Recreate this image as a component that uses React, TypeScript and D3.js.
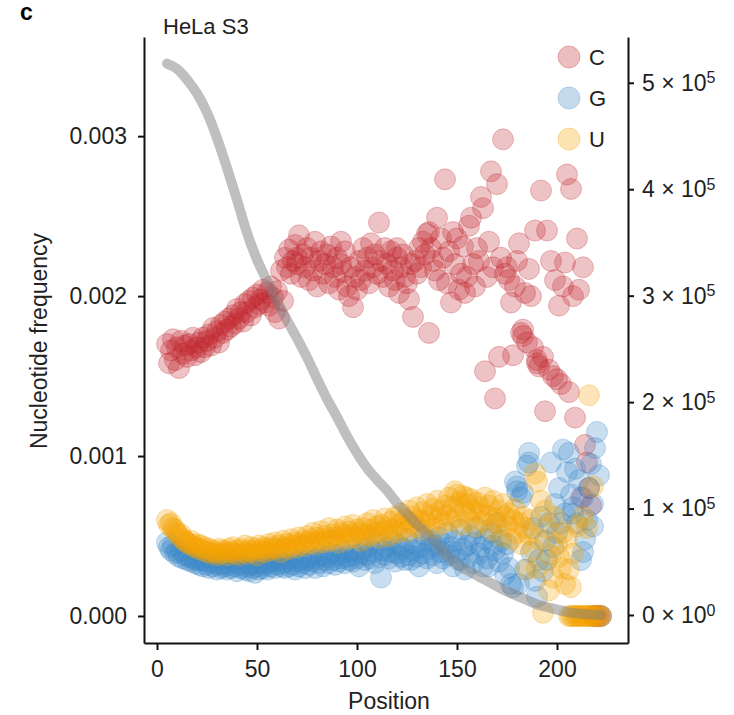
import React, { useEffect, useRef } from "react";
import * as d3 from "d3";

// nucleotide frequency per position, starting at position 5 (values ×10^-3)
const START = 5;
const cFreq = [
  1.70, 1.58, 1.66, 1.73, 1.60, 1.68, 1.55, 1.72, 1.64, 1.69,
  1.62, 1.70, 1.66, 1.74, 1.63, 1.68, 1.71, 1.65, 1.74, 1.68,
  1.72, 1.76, 1.69, 1.80, 1.74, 1.78, 1.71, 1.82, 1.77, 1.84,
  1.79, 1.86, 1.81, 1.88, 1.83, 1.92, 1.86, 1.90, 1.84, 1.95,
  1.90, 1.97, 1.88, 1.99, 1.93, 2.01, 1.95, 1.98, 2.04, 1.96,
  2.02, 1.94, 2.06, 1.99, 1.90, 2.03, 1.86, 2.16, 1.97, 2.24,
  2.18, 2.29, 2.14, 2.22, 2.32, 2.20, 2.38, 2.12, 2.26, 2.18,
  2.30, 2.10, 2.24, 2.16, 2.34, 2.06, 2.22, 2.28, 2.14, 2.20,
  2.26, 2.08, 2.31, 2.18, 2.12, 2.24, 2.04, 2.20, 2.15, 2.28,
  2.06, 2.00, 2.18, 1.93, 2.12, 2.04, 2.22, 2.10, 2.30, 2.16,
  2.24, 2.08, 2.33, 2.18, 2.26, 2.14, 2.46, 2.22, 2.12, 2.30,
  2.20, 2.06, 2.28, 2.16, 2.10, 2.24, 2.02, 2.18, 2.26, 2.12,
  2.08, 1.98, 2.20, 1.87, 2.22, 2.14, 2.30, 2.18, 2.34, 2.26,
  2.39, 1.77, 2.30, 2.22, 2.16, 2.49, 2.10, 2.36, 2.24, 2.73,
  2.08, 2.28, 1.96, 2.40, 2.20, 2.36, 2.04, 2.14, 2.31, 2.02,
  2.12, 2.44, 2.49, 2.20, 2.06, 2.30, 2.22, 2.62, 2.55, 1.53,
  2.12, 2.34, 2.78, 2.18, 1.36, 2.70, 1.62, 2.24, 2.98, 2.14,
  2.18, 2.10, 1.96, 1.63, 2.06, 2.22, 2.33, 1.77, 1.75, 2.02,
  1.71, 2.17, 2.00, 1.68, 2.41, 1.60, 1.56, 2.66, 1.62, 1.28,
  2.41, 1.54, 2.22, 1.50, 2.10, 1.48, 1.94, 1.45, 2.06, 2.21,
  2.76, 1.40, 2.67, 2.00, 1.24, 2.36, 2.04, 0.74, 2.18, 1.07,
  0.96, 0.80, 0.69, 0, 0, 0, 0, 0,
];
const gFreq = [
  0.46, 0.43, 0.41, 0.44, 0.39, 0.40, 0.37, 0.41, 0.36, 0.38,
  0.35, 0.37, 0.34, 0.36, 0.33, 0.35, 0.32, 0.35, 0.31, 0.34,
  0.32, 0.30, 0.34, 0.31, 0.33, 0.29, 0.32, 0.30, 0.33, 0.31,
  0.29, 0.32, 0.30, 0.34, 0.31, 0.28, 0.32, 0.30, 0.33, 0.29,
  0.31, 0.28, 0.32, 0.30, 0.27, 0.31, 0.29, 0.33, 0.30, 0.32,
  0.29, 0.33, 0.31, 0.34, 0.30, 0.32, 0.35, 0.31, 0.33, 0.30,
  0.34, 0.31, 0.36, 0.32, 0.29, 0.34, 0.31, 0.35, 0.33, 0.30,
  0.35, 0.32, 0.37, 0.34, 0.30, 0.36, 0.33, 0.38, 0.31, 0.35,
  0.37, 0.33, 0.39, 0.35, 0.32, 0.38, 0.34, 0.36, 0.40, 0.33,
  0.37, 0.35, 0.41, 0.34, 0.38, 0.36, 0.31, 0.39, 0.42, 0.35,
  0.38, 0.44, 0.36, 0.40, 0.33, 0.46, 0.37, 0.24, 0.41, 0.38,
  0.43, 0.36, 0.40, 0.47, 0.34, 0.39, 0.44, 0.37, 0.42, 0.35,
  0.48, 0.38, 0.35, 0.41, 0.45, 0.37, 0.31, 0.43, 0.39, 0.50,
  0.36, 0.42, 0.47, 0.38, 0.44, 0.33, 0.49, 0.40, 0.36, 0.45,
  0.52, 0.38, 0.43, 0.31, 0.47, 0.40, 0.35, 0.54, 0.42, 0.29,
  0.44, 0.37, 0.50, 0.33, 0.46, 0.55, 0.39, 0.43, 0.31, 0.48,
  0.36, 0.31, 0.52, 0.44, 0.41, 0.58, 0.34, 0.47, 0.39, 0.26,
  0.45, 0.30, 0.20, 0.18, 0.84, 0.81, 0.20, 0.74, 0.77, 0.29,
  0.94, 1.02, 0.40, 0.55, 0.22, 0.12, 0.35, 0.62, 0.28, 0.47,
  0.35, 0.58, 0.96, 0.43, 0.70, 0.52, 0.80, 0.58, 1.04, 0.64,
  0.90, 1.02, 0.76, 0.68, 0.92, 0.58, 0.85, 0.35, 0.74, 0.48,
  0.60, 0.80, 0.95, 0.70, 1.05, 1.15, 0.88, 0,
];
const uFreq = [
  0.60, 0.57, 0.58, 0.55, 0.54, 0.52, 0.50, 0.51, 0.48, 0.47,
  0.46, 0.45, 0.47, 0.44, 0.43, 0.45, 0.42, 0.44, 0.41, 0.43,
  0.40, 0.42, 0.39, 0.41, 0.40, 0.38, 0.42, 0.39, 0.41, 0.40,
  0.38, 0.42, 0.40, 0.43, 0.39, 0.41, 0.38, 0.42, 0.40, 0.44,
  0.39, 0.41, 0.43, 0.40, 0.42, 0.38, 0.44, 0.41, 0.43, 0.40,
  0.42, 0.45, 0.41, 0.43, 0.46, 0.42, 0.44, 0.40, 0.47, 0.43,
  0.45, 0.42, 0.48, 0.44, 0.46, 0.43, 0.49, 0.45, 0.47, 0.44,
  0.50, 0.46, 0.48, 0.52, 0.45, 0.49, 0.47, 0.53, 0.46, 0.50,
  0.48, 0.55, 0.47, 0.51, 0.49, 0.54, 0.46, 0.52, 0.50, 0.56,
  0.48, 0.53, 0.51, 0.57, 0.49, 0.54, 0.52, 0.47, 0.55, 0.51,
  0.58, 0.50, 0.54, 0.60, 0.52, 0.56, 0.49, 0.57, 0.53, 0.61,
  0.55, 0.50, 0.59, 0.54, 0.62, 0.52, 0.57, 0.64, 0.55, 0.60,
  0.53, 0.66, 0.58, 0.62, 0.56, 0.68, 0.60, 0.54, 0.65, 0.59,
  0.70, 0.57, 0.63, 0.67, 0.55, 0.72, 0.61, 0.66, 0.58, 0.69,
  0.63, 0.74, 0.60, 0.68, 0.78, 0.62, 0.71, 0.57, 0.75, 0.65,
  0.70, 0.60, 0.73, 0.66, 0.56, 0.71, 0.64, 0.68, 0.59, 0.74,
  0.63, 0.69, 0.54, 0.72, 0.61, 0.58, 0.66, 0.50, 0.70, 0.62,
  0.56, 0.64, 0.48, 0.60, 0.67, 0.52, 0.58, 0.45, 0.62, 0.55,
  0.29, 0.51, 0.60, 0.42, 0.89, 0.84, 0.48, 0.72, 0.02, 0.66,
  0.55, 0.16, 0.38, 0.24, 0.62, 0.45, 0.37, 0.30, 0.52, 0.20,
  0.49, 0, 0, 0, 0, 0, 0, 0, 0, 0,
  0, 0, 0, 0, 0, 0, 0, 0,
];

// extra points sharing a position with another (position, value ×10^-3)
const cExtra = [[70, 2.24], [92, 2.34], [120, 2.30], [136, 2.40], [183, 1.79], [190, 1.58]];
const gExtra = [[180, 0.78], [186, 0.96], [208, 0.64], [213, 0.40], [218, 0.56]];
const uExtra = [[150, 0.76], [155, 0.74], [190, 0.30], [206, 0.29], [207, 0.18], [208, 0.39],
  [210, 0.56], [213, 0.62], [215, 0.55], [216, 1.38], [218, 0.81]];

// read coverage (right axis, ×10^5)
const coverPos = [5, 10, 15, 20, 25, 30, 35, 40, 45, 50, 55, 60, 65, 70, 75, 80, 85, 90, 95, 100,
  105, 110, 115, 120, 125, 130, 135, 140, 145, 150, 155, 160, 165, 170, 175, 180, 185, 190, 195,
  200, 205, 210, 215, 220, 222];
const coverVal = [5.18, 5.13, 5.03, 4.90, 4.72, 4.48, 4.20, 3.90, 3.59, 3.34, 3.14, 2.95, 2.77,
  2.60, 2.42, 2.22, 2.03, 1.86, 1.68, 1.52, 1.38, 1.27, 1.17, 1.05, 0.95, 0.85, 0.76, 0.66, 0.56,
  0.48, 0.42, 0.37, 0.32, 0.27, 0.22, 0.18, 0.14, 0.10, 0.075, 0.05, 0.03, 0.015, 0.007, 0.002, 0];

const bases = ["C", "G", "U"];
const baseColors = ["#C1272D", "#3C87C8", "#F5A300"];
const xTicks = [0, 50, 100, 150, 200];
const leftTicks = [0, 0.001, 0.002, 0.003];
const rightTicks = [0, 1e5, 2e5, 3e5, 4e5, 5e5];

const FONT = "'Liberation Sans', Arial, Helvetica, sans-serif";

export default function App() {
  const ref = useRef<SVGSVGElement>(null);

  useEffect(() => {
    const svg = d3.select(ref.current);
    svg.selectAll("*").remove();

    const left = 144, right = 628, top = 37, bottom = 643;
    const x = d3.scaleLinear().domain([-6.5, 235.5]).range([left, right]);
    const yL = d3.scaleLinear().domain([-0.000169, 0.00362]).range([bottom, top]);
    const yR = d3.scaleLinear().domain([-0.263e5, 5.43e5]).range([bottom, top]);

    const series = [cFreq, gFreq, uFreq].map((vals, i) => {
      const pts = vals.map((v, j) => ({ pos: START + j, v: v * 1e-3 }));
      const extra = [cExtra, gExtra, uExtra][i].map(([p, v]) => ({ pos: p, v: v * 1e-3 }));
      return pts.concat(extra);
    });

    // points
    series.forEach((pts, i) => {
      svg
        .append("g")
        .selectAll("circle")
        .data(pts)
        .enter()
        .append("circle")
        .attr("cx", (d) => x(d.pos))
        .attr("cy", (d) => yL(d.v))
        .attr("r", 10.5)
        .attr("fill", baseColors[i])
        .attr("fill-opacity", 0.28)
        .attr("stroke", baseColors[i])
        .attr("stroke-opacity", 0.3)
        .attr("stroke-width", 1);
    });

    // coverage line
    const line = d3
      .line<number>()
      .x((d, i) => x(coverPos[i]))
      .y((d) => yR(d * 1e5))
      .curve(d3.curveMonotoneX);
    svg
      .append("path")
      .attr("d", line(coverVal))
      .attr("fill", "none")
      .attr("stroke", "#808080")
      .attr("stroke-opacity", 0.5)
      .attr("stroke-width", 10)
      .attr("stroke-linecap", "round");

    // axes
    const styleAxis = (g: any) => {
      g.select(".domain").attr("stroke", "#111").attr("stroke-width", 2);
      g.selectAll(".tick line").attr("stroke", "#111").attr("stroke-width", 2);
      g.selectAll(".tick text").attr("fill", "#222").style("font-size", "23px").style("font-family", FONT);
    };

    svg
      .append("g")
      .attr("transform", `translate(${left},0)`)
      .call(d3.axisLeft(yL).tickValues(leftTicks).tickFormat(d3.format(".3f")).tickSize(6).tickSizeOuter(0).tickPadding(11))
      .call(styleAxis);

    svg
      .append("g")
      .attr("transform", `translate(0,${bottom})`)
      .call(d3.axisBottom(x).tickValues(xTicks).tickFormat(d3.format("d")).tickSize(7).tickSizeOuter(0).tickPadding(11))
      .call(styleAxis);

    const rAxis = svg
      .append("g")
      .attr("transform", `translate(${right},0)`)
      .call(d3.axisRight(yR).tickValues(rightTicks).tickSize(6).tickSizeOuter(0).tickPadding(8))
      .call(styleAxis);
    rAxis.selectAll(".tick text").each(function (d: any) {
      const t = d3.select(this);
      t.text(null);
      t.append("tspan").text(`${d / 1e5} \u00d7 10`);
      t.append("tspan").attr("dy", "-0.45em").style("font-size", "16px").text(d === 0 ? "0" : "5");
    });

    // axis titles
    svg
      .append("text")
      .attr("transform", `translate(47,341) rotate(-90)`)
      .attr("text-anchor", "middle")
      .style("font-family", FONT)
      .style("font-size", "23px")
      .attr("fill", "#222")
      .text("Nucleotide frequency");
    svg
      .append("text")
      .attr("x", 389)
      .attr("y", 709)
      .attr("text-anchor", "middle")
      .style("font-family", FONT)
      .style("font-size", "23px")
      .attr("fill", "#222")
      .text("Position");

    // panel letter and title
    svg
      .append("text")
      .attr("x", 20)
      .attr("y", 20)
      .style("font-family", FONT)
      .style("font-size", "23px")
      .style("font-weight", "bold")
      .text("c");
    svg
      .append("text")
      .attr("x", 163)
      .attr("y", 34)
      .style("font-family", FONT)
      .style("font-size", "22px")
      .attr("fill", "#222")
      .text("HeLa S3");

    // legend
    const legend = svg.append("g").attr("transform", "translate(569,57)");
    bases.forEach((b, i) => {
      const row = legend.append("g").attr("transform", `translate(0,${i * 41})`);
      row
        .append("circle")
        .attr("r", 11)
        .attr("fill", baseColors[i])
        .attr("fill-opacity", 0.3)
        .attr("stroke", baseColors[i])
        .attr("stroke-opacity", 0.3);
      row
        .append("text")
        .attr("x", 20)
        .attr("dy", "0.36em")
        .style("font-family", FONT)
        .style("font-size", "22px")
        .attr("fill", "#222")
        .text(b);
    });
  }, []);

  return (
    <svg
      ref={ref}
      width={734}
      height={715}
      style={{ position: "absolute", left: 0, top: 0, background: "#fff" }}
    />
  );
}
